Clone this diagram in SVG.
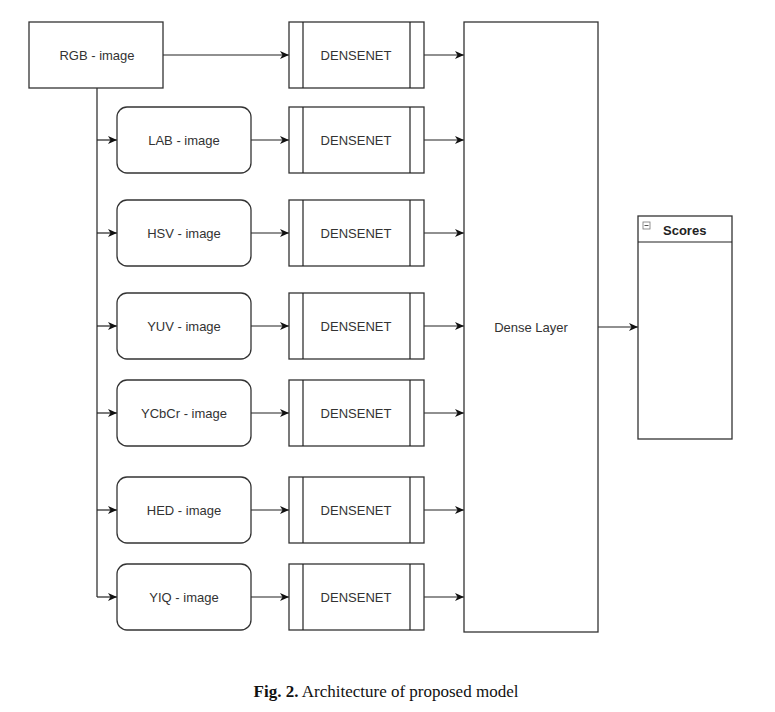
<svg xmlns="http://www.w3.org/2000/svg" width="775" height="712" viewBox="0 0 775 712">
<defs>
<marker id="ah" markerWidth="10" markerHeight="8" refX="9" refY="4" orient="auto" markerUnits="userSpaceOnUse">
<path d="M0,0 L9,4 L0,8 L2.5,4 Z" fill="#111"/>
</marker>
</defs>
<style>
.box{fill:#fff;stroke:#333;stroke-width:1.3}
.t{font-family:"Liberation Sans",Arial,sans-serif;font-size:13px;fill:#333;text-anchor:middle;dominant-baseline:central}
.c{fill:none;stroke:#222;stroke-width:1.2}
.a{fill:none;stroke:#222;stroke-width:1.2;marker-end:url(#ah)}
</style>
<rect width="775" height="712" fill="#fff"/>
<g id="connectors">
<path class="c" d="M97,88 V597"/>
<path class="a" d="M163,55 H289"/>
<path class="a" d="M97,140 H117"/>
<path class="a" d="M97,233 H117"/>
<path class="a" d="M97,326 H117"/>
<path class="a" d="M97,413 H117"/>
<path class="a" d="M97,510 H117"/>
<path class="a" d="M97,597 H117"/>
<path class="a" d="M251,140 H289"/>
<path class="a" d="M251,233 H289"/>
<path class="a" d="M251,326 H289"/>
<path class="a" d="M251,413 H289"/>
<path class="a" d="M251,510 H289"/>
<path class="a" d="M251,597 H289"/>
<path class="a" d="M424,55 H464"/>
<path class="a" d="M424,140 H464"/>
<path class="a" d="M424,233 H464"/>
<path class="a" d="M424,326 H464"/>
<path class="a" d="M424,413 H464"/>
<path class="a" d="M424,510 H464"/>
<path class="a" d="M424,597 H464"/>
<path class="a" d="M598,327 H638"/>
</g>
<g id="rgb"><rect class="box" x="29" y="22" width="134" height="66"/><text class="t" x="97" y="55">RGB - image</text></g>
<g id="lab"><rect class="box" x="117" y="107" width="134" height="66" rx="10"/><text class="t" x="184" y="140">LAB - image</text></g>
<g id="hsv"><rect class="box" x="117" y="200" width="134" height="66" rx="10"/><text class="t" x="184" y="233">HSV - image</text></g>
<g id="yuv"><rect class="box" x="117" y="293" width="134" height="66" rx="10"/><text class="t" x="184" y="326">YUV - image</text></g>
<g id="ycbcr"><rect class="box" x="117" y="380" width="134" height="66" rx="10"/><text class="t" x="184" y="413">YCbCr - image</text></g>
<g id="hed"><rect class="box" x="117" y="477" width="134" height="66" rx="10"/><text class="t" x="184" y="510">HED - image</text></g>
<g id="yiq"><rect class="box" x="117" y="564" width="134" height="66" rx="10"/><text class="t" x="184" y="597">YIQ - image</text></g>
<g id="dn1"><rect class="box" x="289" y="22" width="135" height="66"/><path class="c" d="M303,22 V88 M410,22 V88"/><text class="t" x="356" y="55">DENSENET</text></g>
<g id="dn2"><rect class="box" x="289" y="107" width="135" height="66"/><path class="c" d="M303,107 V173 M410,107 V173"/><text class="t" x="356" y="140">DENSENET</text></g>
<g id="dn3"><rect class="box" x="289" y="200" width="135" height="66"/><path class="c" d="M303,200 V266 M410,200 V266"/><text class="t" x="356" y="233">DENSENET</text></g>
<g id="dn4"><rect class="box" x="289" y="293" width="135" height="66"/><path class="c" d="M303,293 V359 M410,293 V359"/><text class="t" x="356" y="326">DENSENET</text></g>
<g id="dn5"><rect class="box" x="289" y="380" width="135" height="66"/><path class="c" d="M303,380 V446 M410,380 V446"/><text class="t" x="356" y="413">DENSENET</text></g>
<g id="dn6"><rect class="box" x="289" y="477" width="135" height="66"/><path class="c" d="M303,477 V543 M410,477 V543"/><text class="t" x="356" y="510">DENSENET</text></g>
<g id="dn7"><rect class="box" x="289" y="564" width="135" height="66"/><path class="c" d="M303,564 V630 M410,564 V630"/><text class="t" x="356" y="597">DENSENET</text></g>
<g id="dense"><rect class="box" x="464" y="22" width="134" height="610"/><text class="t" x="531" y="327">Dense Layer</text></g>
<g id="scores">
<rect class="box" x="638" y="216" width="94" height="223"/>
<path class="c" d="M638,242 H732"/>
<rect x="643" y="222" width="7" height="7" fill="#fff" stroke="#777" stroke-width="0.8"/>
<path d="M644.5,225.5 H648.5" stroke="#555" stroke-width="1"/>
<text x="663" y="230" font-family="'Liberation Sans',Arial,sans-serif" font-size="13" font-weight="bold" fill="#222" dominant-baseline="central">Scores</text>
</g>
<text x="386" y="697" font-family="'Liberation Serif','Times New Roman',serif" font-size="17" fill="#111" text-anchor="middle"><tspan font-weight="bold">Fig. 2.</tspan> Architecture of proposed model</text>
</svg>
